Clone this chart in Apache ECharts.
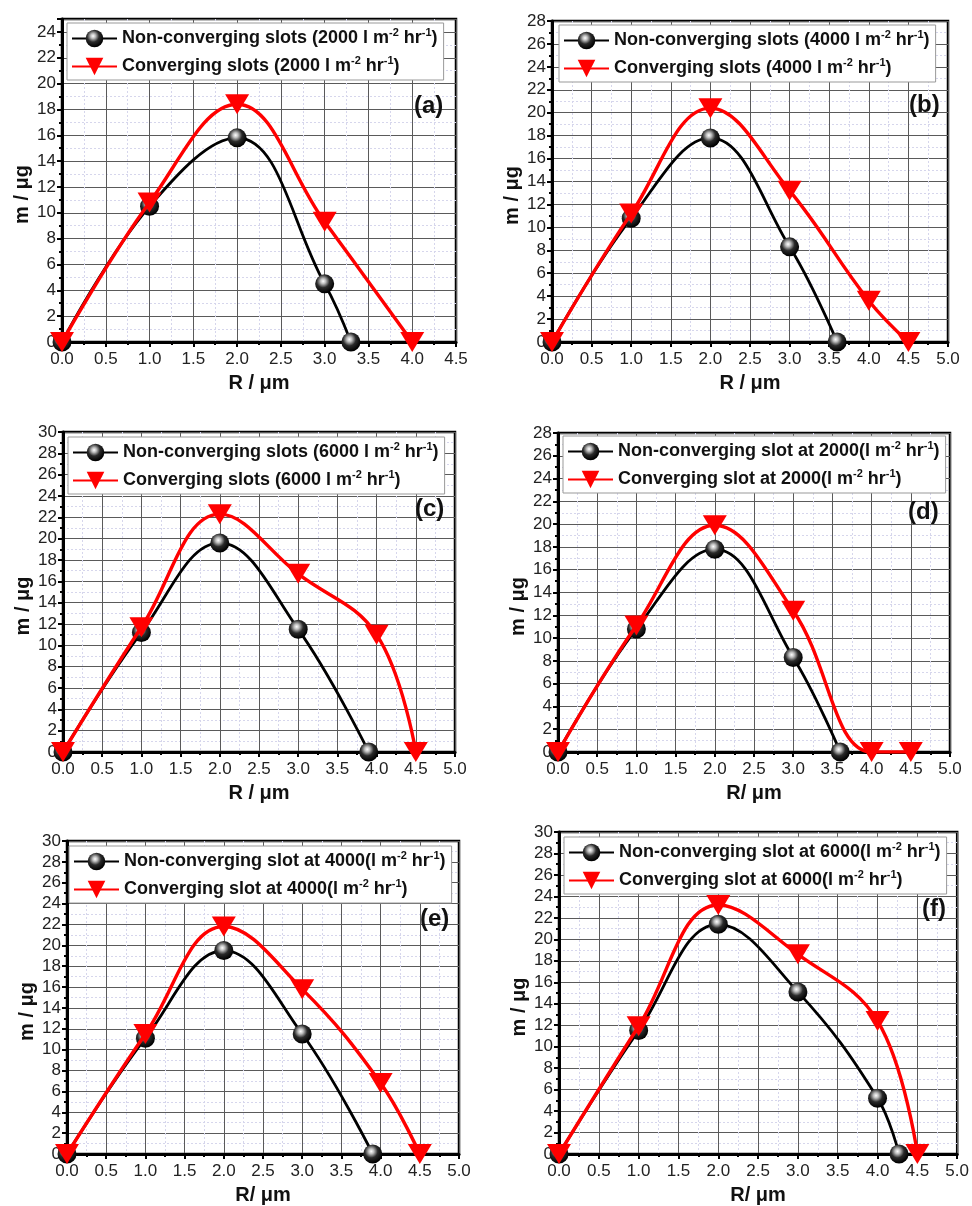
<!DOCTYPE html>
<html>
<head>
<meta charset="utf-8">
<script src="https://cdn.jsdelivr.net/npm/echarts@6/dist/echarts.min.js"></script>
<style>
html, body { margin: 0; padding: 0; background: #fff; }
#chart { width: 972px; height: 1206px; }
</style>
</head>
<body>
<div id="chart"></div>
<script>
// R / um and m / ug
const rNonA = [0, 1, 2, 3, 3.3];
const mNonA = [0, 10.5, 15.8, 4.5, 0];
const rConA = [0, 1, 2, 3, 4];
const mConA = [0, 10.8, 18.4, 9.3, 0];

const rNonB = [0, 1, 2, 3, 3.6];
const mNonB = [0, 10.8, 17.8, 8.3, 0];
const rConB = [0, 1, 2, 3, 4, 4.5];
const mConB = [0, 11.2, 20.4, 13.2, 3.6, 0];

const rNonC = [0, 1, 2, 3, 3.9];
const mNonC = [0, 11.2, 19.6, 11.5, 0];
const rConC = [0, 1, 2, 3, 4, 4.5];
const mConC = [0, 11.7, 22.3, 16.7, 11.0, 0];

const rNonD = [0, 1, 2, 3, 3.6];
const mNonD = [0, 10.8, 17.8, 8.3, 0];
const rConD = [0, 1, 2, 3, 4, 4.5];
const mConD = [0, 11.1, 19.9, 12.4, 0, 0];

const rNonE = [0, 1, 2, 3, 3.9];
const mNonE = [0, 11.1, 19.5, 11.5, 0];
const rConE = [0, 1, 2, 3, 4, 4.5];
const mConE = [0, 11.5, 21.8, 15.8, 6.8, 0];

const rNonF = [0, 1, 2, 3, 4, 4.27];
const mNonF = [0, 11.5, 21.4, 15.1, 5.2, 0];
const rConF = [0, 1, 2, 3, 4, 4.5];
const mConF = [0, 11.9, 23.2, 18.6, 12.4, 0];

const panelTags = ['(a)', '(b)', '(c)', '(d)', '(e)', '(f)'];
const nonNames = [
    'Non-converging slots (2000 l m-2 hr-1)',
    'Non-converging slots (4000 l m-2 hr-1)',
    'Non-converging slots (6000 l m-2 hr-1)',
    'Non-converging slot at 2000(l m-2 hr-1)',
    'Non-converging slot at 4000(l m-2 hr-1)',
    'Non-converging slot at 6000(l m-2 hr-1)'
];
const conNames = [
    'Converging slots (2000 l m-2 hr-1)',
    'Converging slots (4000 l m-2 hr-1)',
    'Converging slots (6000 l m-2 hr-1)',
    'Converging slot at 2000(l m-2 hr-1)',
    'Converging slot at 4000(l m-2 hr-1)',
    'Converging slot at 6000(l m-2 hr-1)'
];
const xNames = ['R / \u03bcm', 'R / \u03bcm', 'R / \u03bcm', 'R/ \u03bcm', 'R/ \u03bcm', 'R/ \u03bcm'];
const xMax = [4.5, 5, 5, 5, 5, 5];
const yMax = [25, 28, 30, 28, 30, 30];

const nonR = [rNonA, rNonB, rNonC, rNonD, rNonE, rNonF];
const nonM = [mNonA, mNonB, mNonC, mNonD, mNonE, mNonF];
const conR = [rConA, rConB, rConC, rConD, rConE, rConF];
const conM = [mConA, mConB, mConC, mConD, mConE, mConF];

// layout of each panel (px)
const layout = [
    {grid: [62, 19, 394, 323],  legend: [67, 23],   tag: [414, 94]},
    {grid: [552, 21, 396, 321], legend: [559, 25],  tag: [909, 93]},
    {grid: [63, 432, 392, 320], legend: [68, 437],  tag: [415, 497]},
    {grid: [558, 433, 392, 319], legend: [563, 436], tag: [908, 500]},
    {grid: [67, 841, 392, 322], legend: [69, 846],  tag: [420, 907]},
    {grid: [559, 832, 400, 327], legend: [564, 837], tag: [922, 897]}
]

const FONT = '"Liberation Sans", Arial, sans-serif'

const sphere = {
    type: 'radial', x: 0.42, y: 0.36, r: 0.62,
    colorStops: [
        {offset: 0, color: '#ffffff'},
        {offset: 0.22, color: '#bdbdbd'},
        {offset: 0.55, color: '#2a2a2a'},
        {offset: 1, color: '#000000'}
    ]
}

function zip (xs, ys) {
    return xs.map((x, i) => [x, ys[i]])
}

const grids = [], xAxes = [], yAxes = [], series = [], legends = [], titles = []

layout.forEach((p, i) => {
    grids.push({
        left: p.grid[0], top: p.grid[1], width: p.grid[2], height: p.grid[3],
        show: true, borderColor: '#000', borderWidth: 2.5, backgroundColor: 'transparent'
    })
    xAxes.push({
        type: 'value', gridIndex: i, min: 0, max: xMax[i], interval: 0.5,
        name: xNames[i], nameLocation: 'middle', nameGap: 31,
        nameTextStyle: {fontFamily: FONT, fontWeight: 'bold', fontSize: 20, color: '#111'},
        axisLine: {show: true, onZero: false, lineStyle: {color: '#000', width: 3}},
        axisTick: {show: true, inside: false, length: 5, lineStyle: {color: '#000', width: 2}},
        minorTick: {show: true, splitNumber: 2, length: 3, lineStyle: {color: '#000', width: 2}},
        axisLabel: {fontFamily: FONT, fontSize: 17, color: '#222', margin: 9,
            formatter: v => v.toFixed(1)},
        splitLine: {show: true, lineStyle: {color: '#5a5a5a', width: 1}},
        minorSplitLine: {show: true, lineStyle: {color: '#d6d6ec', width: 1, type: [2, 2]}}
    })
    yAxes.push({
        type: 'value', gridIndex: i, min: 0, max: yMax[i], interval: 2,
        name: 'm / \u03bcg', nameLocation: 'middle', nameGap: 30,
        nameTextStyle: {fontFamily: FONT, fontWeight: 'bold', fontSize: 20, color: '#111',
            padding: [0, 28, 0, 0]},
        axisLine: {show: true, onZero: false, lineStyle: {color: '#000', width: 3}},
        axisTick: {show: true, inside: false, length: 5, lineStyle: {color: '#000', width: 2}},
        minorTick: {show: true, splitNumber: 2, length: 3, lineStyle: {color: '#000', width: 2}},
        axisLabel: {fontFamily: FONT, fontSize: 17, color: '#222', margin: 6, showMaxLabel: yMax[i] % 2 === 0},
        splitLine: {show: true, lineStyle: {color: '#5a5a5a', width: 1}},
        minorSplitLine: {show: true, lineStyle: {color: '#d6d6ec', width: 1, type: [2, 2]}}
    })
    series.push({
        name: nonNames[i], type: 'line', xAxisIndex: i, yAxisIndex: i,
        data: zip(nonR[i], nonM[i]), smooth: 0.4,
        symbol: 'circle', symbolSize: 19, z: 3,
        lineStyle: {color: '#000', width: 2.8},
        itemStyle: {color: sphere}
    })
    series.push({
        name: conNames[i], type: 'line', xAxisIndex: i, yAxisIndex: i,
        data: zip(conR[i], conM[i]), smooth: 0.4,
        symbol: 'triangle', symbolRotate: 180, symbolSize: [24, 20], z: 4,
        lineStyle: {color: '#ff0000', width: 3.4},
        itemStyle: {color: '#ff0000'}
    })
    legends.push({
        data: [nonNames[i], conNames[i]],
        orient: 'vertical', left: p.legend[0], top: p.legend[1],
        itemWidth: 45, itemHeight: 22, itemGap: 5,
        padding: [4, 6, 2, 4],
        backgroundColor: '#fff', borderColor: '#999', borderWidth: 1,
        selectedMode: false,
        textStyle: {
            fontFamily: FONT, fontWeight: 'bold', fontSize: 18, color: '#111', lineHeight: 23,
            rich: {
                sup: {fontFamily: FONT, fontWeight: 'bold', fontSize: 11, color: '#111',
                    verticalAlign: 'top', lineHeight: 12}
            }
        },
        formatter: name => name.replace('m-2', 'm{sup|-2}').replace('hr-1', 'hr{sup|-1}')
    })
    titles.push({
        text: panelTags[i], left: p.tag[0], top: p.tag[1], padding: 0,
        textStyle: {fontFamily: FONT, fontWeight: 'bold', fontSize: 24, color: '#111'}
    })
})

const chart = echarts.init(document.getElementById('chart'), null, {renderer: 'canvas'})
chart.setOption({
    backgroundColor: '#fff',
    animation: false,
    title: titles,
    legend: legends,
    grid: grids,
    xAxis: xAxes,
    yAxis: yAxes,
    series: series
})
</script>
</body>
</html>
